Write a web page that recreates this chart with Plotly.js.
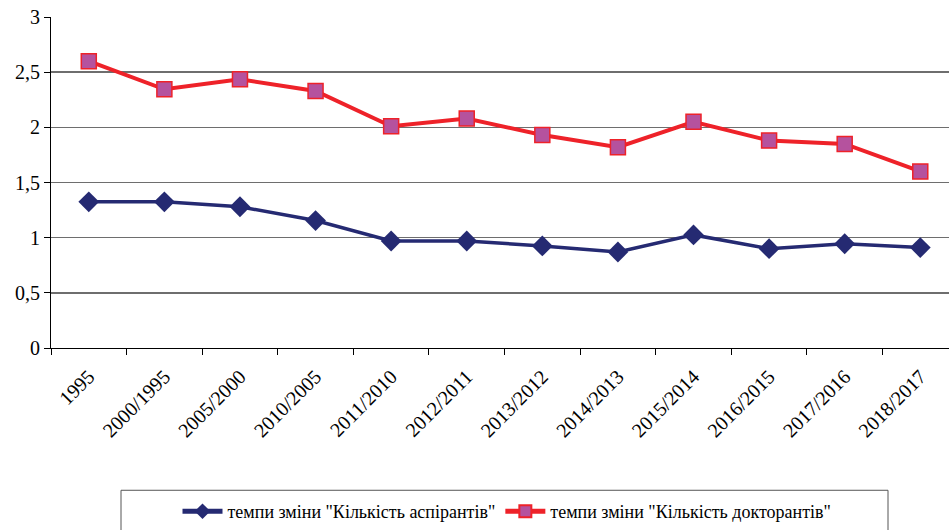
<!DOCTYPE html>
<html>
<head>
<meta charset="utf-8">
<script src="https://cdn.plot.ly/plotly-3.0.1.min.js"></script>
<style>
html,body{margin:0;padding:0;background:#fff;}
#chart{width:949px;height:530px;}
#chart svg text, #chart .xtick text, #chart .ytick text, #chart .legendtext {
  font-family: 'Liberation Serif', 'Times New Roman', serif !important;
}
</style>
</head>
<body>
<div id="chart"></div>
<script>
const categories = ["1995","2000/1995","2005/2000","2010/2005","2011/2010","2012/2011","2013/2012","2014/2013","2015/2014","2016/2015","2017/2016","2018/2017"];
const aspirants = [1.325,1.325,1.28,1.155,0.97,0.97,0.925,0.87,1.025,0.9,0.945,0.91];
const doctorants = [2.6,2.345,2.435,2.33,2.01,2.08,1.93,1.82,2.05,1.88,1.85,1.6];
const seriesNames = ["темпи зміни \"Кількість аспірантів\"","темпи зміни \"Кількість докторантів\""];
const yTicks = [0,0.5,1,1.5,2,2.5,3];

const W = 949, H = 530, L = 51, T = 17, B = 178;
const plotW = W - L, plotH = H - T - B;
const px2x = p => (p - L) / plotW;
const py2y = p => (H - B - p) / plotH;
const FAM = 'Liberation Serif';

const traces = [
  {x: categories, y: aspirants, name: seriesNames[0], type: 'scatter', mode: 'lines+markers',
   line: {color: '#252a72', width: 3.5}, marker: {symbol: 'diamond', size: 16, color: '#252a72'}},
  {x: categories, y: doctorants, name: seriesNames[1], type: 'scatter', mode: 'lines+markers',
   line: {color: '#ee2229', width: 4}, marker: {symbol: 'square', size: 15, color: '#b5529e', line: {color: '#ee2229', width: 1.5}}}
];

const layout = {
  width: W, height: H,
  margin: {l: L, r: 0, t: T, b: B, pad: 0},
  paper_bgcolor: '#fff', plot_bgcolor: '#fff',
  separators: ', ',
  font: {family: FAM, size: 18, color: '#000'},
  showlegend: true,
  xaxis: {
    type: 'category', range: [-0.5, 11.38], tickangle: -45,
    showline: true, linecolor: '#000', linewidth: 1,
    ticks: 'outside', tickson: 'boundaries', ticklen: 6, tickcolor: '#000',
    ticklabelstandoff: 8,
    showgrid: false, zeroline: false,
    tickfont: {family: FAM, size: 20, color: '#000'}
  },
  yaxis: {
    range: [0, 3], tickvals: yTicks, ticktext: yTicks.map(v => String(v).replace('.', ',')),
    showline: true, linecolor: '#000', linewidth: 1,
    ticks: 'outside', ticklen: 6, tickcolor: '#000',
    showgrid: true, gridcolor: '#6e6e6e', gridwidth: 1.5, zeroline: false,
    tickfont: {family: FAM, size: 20, color: '#000'}
  },
  legend: {
    orientation: 'h', x: px2x(507), xanchor: 'center', y: py2y(499), yanchor: 'top',
    bgcolor: 'rgba(0,0,0,0)', borderwidth: 0, itemsizing: 'constant',
    font: {family: FAM, size: 18, color: '#000'},
    itemwidth: 40, tracegroupgap: 0
  },
  shapes: [
    {type: 'rect', xref: 'paper', yref: 'paper', x0: px2x(121), x1: px2x(888), y0: py2y(496), y1: py2y(545),
     line: {color: '#555', width: 1}, fillcolor: 'rgba(0,0,0,0)', layer: 'below'}
  ]
};

Plotly.newPlot('chart', traces, layout, {displayModeBar: false, staticPlot: true});
</script>
</body>
</html>
